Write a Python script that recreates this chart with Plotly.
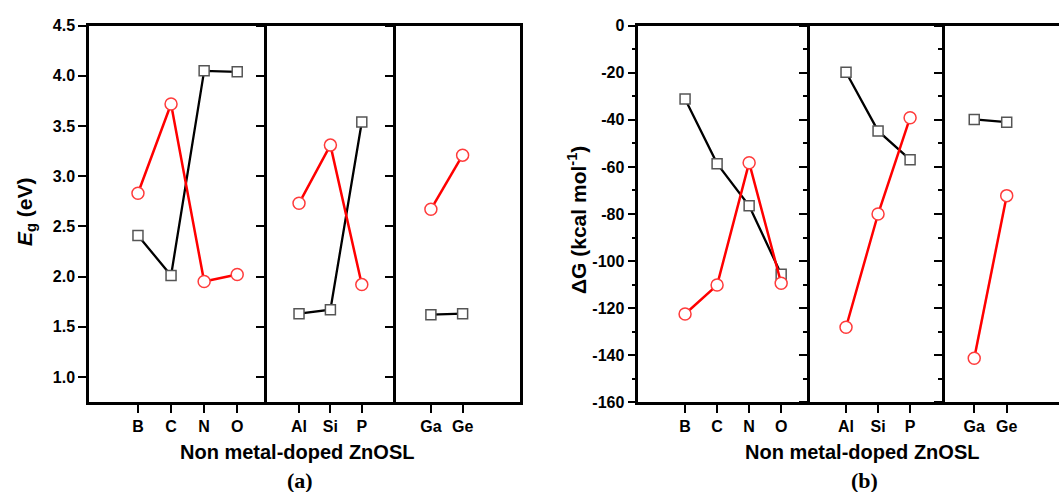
import plotly.graph_objects as go

W, H = 1059, 492

# ---------------- data ----------------
groups = [["B", "C", "N", "O"], ["Al", "Si", "P"], ["Ga", "Ge"]]

eg_square = [[2.41, 2.01, 4.05, 4.04], [1.63, 1.67, 3.54], [1.62, 1.63]]
eg_circle = [[2.83, 3.72, 1.95, 2.02], [2.73, 3.31, 1.92], [2.67, 3.21]]

dg_square = [[-31.1, -58.6, -76.5, -105.6], [-19.8, -44.7, -56.9], [-39.8, -41.0]]
dg_circle = [[-122.5, -110.2, -58.2, -109.4], [-128.1, -80.0, -39.1], [-141.3, -72.2]]

eg_ticks = [1.0, 1.5, 2.0, 2.5, 3.0, 3.5, 4.0, 4.5]
dg_ticks = [0, -20, -40, -60, -80, -100, -120, -140, -160]

# ---------------- layout geometry (pixels) ----------------
a_panels_px = [(89, 267), (267, 395.7), (395.7, 520)]
a_xranges = [(-1.48, 3.9), (-1.02, 3.08), (-1.11, 2.81)]
b_panels_px = [(638.3, 810), (810, 945), (945, 1059)]
b_xranges = [(-1.46, 3.9), (-1.125, 3.09), (-0.9, 2.61)]
a_y_px = (25.7, 402)
b_y_px = (25.7, 402.3)

fig = go.Figure()

FONT = "Liberation Sans, Arial, sans-serif"
AXW = 2.5

def px2fx(p):
    return p / W

def px2fy(p):
    return 1 - p / H

layout = dict()
idx = 0
for chart, panels, xr, ypx, sq, ci in (
    ("a", a_panels_px, a_xranges, a_y_px, eg_square, eg_circle),
    ("b", b_panels_px, b_xranges, b_y_px, dg_square, dg_circle),
):
    for p in range(3):
        idx += 1
        xa = "xaxis" if idx == 1 else f"xaxis{idx}"
        ya = "yaxis" if idx == 1 else f"yaxis{idx}"
        xref = "x" if idx == 1 else f"x{idx}"
        yref = "y" if idx == 1 else f"y{idx}"
        cats = groups[p]
        xs = list(range(len(cats)))
        fig.add_trace(go.Scatter(
            x=xs, y=sq[p], xaxis=xref, yaxis=yref, mode="lines+markers",
            line=dict(color="black", width=2.3),
            marker=dict(symbol="square", size=10, color="white",
                        line=dict(color="#555555", width=1.5)),
            showlegend=False, hoverinfo="skip"))
        fig.add_trace(go.Scatter(
            x=xs, y=ci[p], xaxis=xref, yaxis=yref, mode="lines+markers",
            line=dict(color="#ff0000", width=2.5),
            marker=dict(symbol="circle", size=12, color="white",
                        line=dict(color="#ff3b3b", width=1.5)),
            showlegend=False, hoverinfo="skip"))
        x0, x1 = panels[p]
        layout[xa] = dict(
            domain=[px2fx(x0), min(1.0, px2fx(x1))], range=list(xr[p]),
            anchor=yref, tickvals=xs, ticktext=cats, ticks="outside",
            ticklen=8, tickwidth=2, tickcolor="black", automargin=False,
            showline=True, linecolor="black", linewidth=AXW, mirror=True,
            showgrid=False, zeroline=False,
            tickfont=dict(family=FONT, size=16, color="black", weight="bold"),
        )
        yd = [px2fy(ypx[1]), px2fy(ypx[0])]
        if chart == "a":
            ydict = dict(range=[0.75, 4.5], tickvals=eg_ticks,
                         ticktext=[f"{v:.1f}" for v in eg_ticks])
        else:
            ydict = dict(range=[-160, 0], tickvals=dg_ticks,
                         ticktext=[str(v) for v in dg_ticks],
                         minor=dict(ticks="outside", dtick=10, ticklen=4,
                                    tickwidth=2, tickcolor="black",
                                    showgrid=False))
        ydict.update(
            domain=yd, anchor=xref, ticks="outside", ticklen=8, tickwidth=2,
            tickcolor="black", showline=True, linecolor="black",
            linewidth=AXW, mirror=(chart == "a" and p == 2),
            showgrid=False, zeroline=False, showticklabels=(p == 0),
            automargin=False,
            tickfont=dict(family=FONT, size=16, color="black", weight="bold"),
        )
        layout[ya] = ydict

annotations = [
    dict(x=px2fx(26), y=px2fy(212), text="<i>E</i><sub>g</sub> (eV)",
         textangle=-90, font=dict(family=FONT, size=21, color="black", weight="bold")),
    dict(x=px2fx(577), y=px2fy(220), text="ΔG (kcal mol<sup>-1</sup>)",
         textangle=-90, font=dict(family=FONT, size=21, color="black", weight="bold")),
    dict(x=px2fx(297), y=px2fy(452), text="Non metal-doped ZnOSL",
         font=dict(family=FONT, size=20, color="black", weight="bold")),
    dict(x=px2fx(862), y=px2fy(452), text="Non metal-doped ZnOSL",
         font=dict(family=FONT, size=20, color="black", weight="bold")),
    dict(x=px2fx(300), y=px2fy(480), text="(a)",
         font=dict(family="Liberation Serif, Times New Roman, serif", size=22,
                   color="black", weight="bold")),
    dict(x=px2fx(864), y=px2fy(480), text="(b)",
         font=dict(family="Liberation Serif, Times New Roman, serif", size=22,
                   color="black", weight="bold")),
]
for a in annotations:
    a.update(xref="paper", yref="paper", xanchor="center", yanchor="middle",
             showarrow=False)

fig.update_layout(
    width=W, height=H, margin=dict(l=0, r=0, t=0, b=0, autoexpand=False),
    paper_bgcolor="white", plot_bgcolor="white",
    annotations=annotations, **layout,
)

fig.write_html("out.html")
